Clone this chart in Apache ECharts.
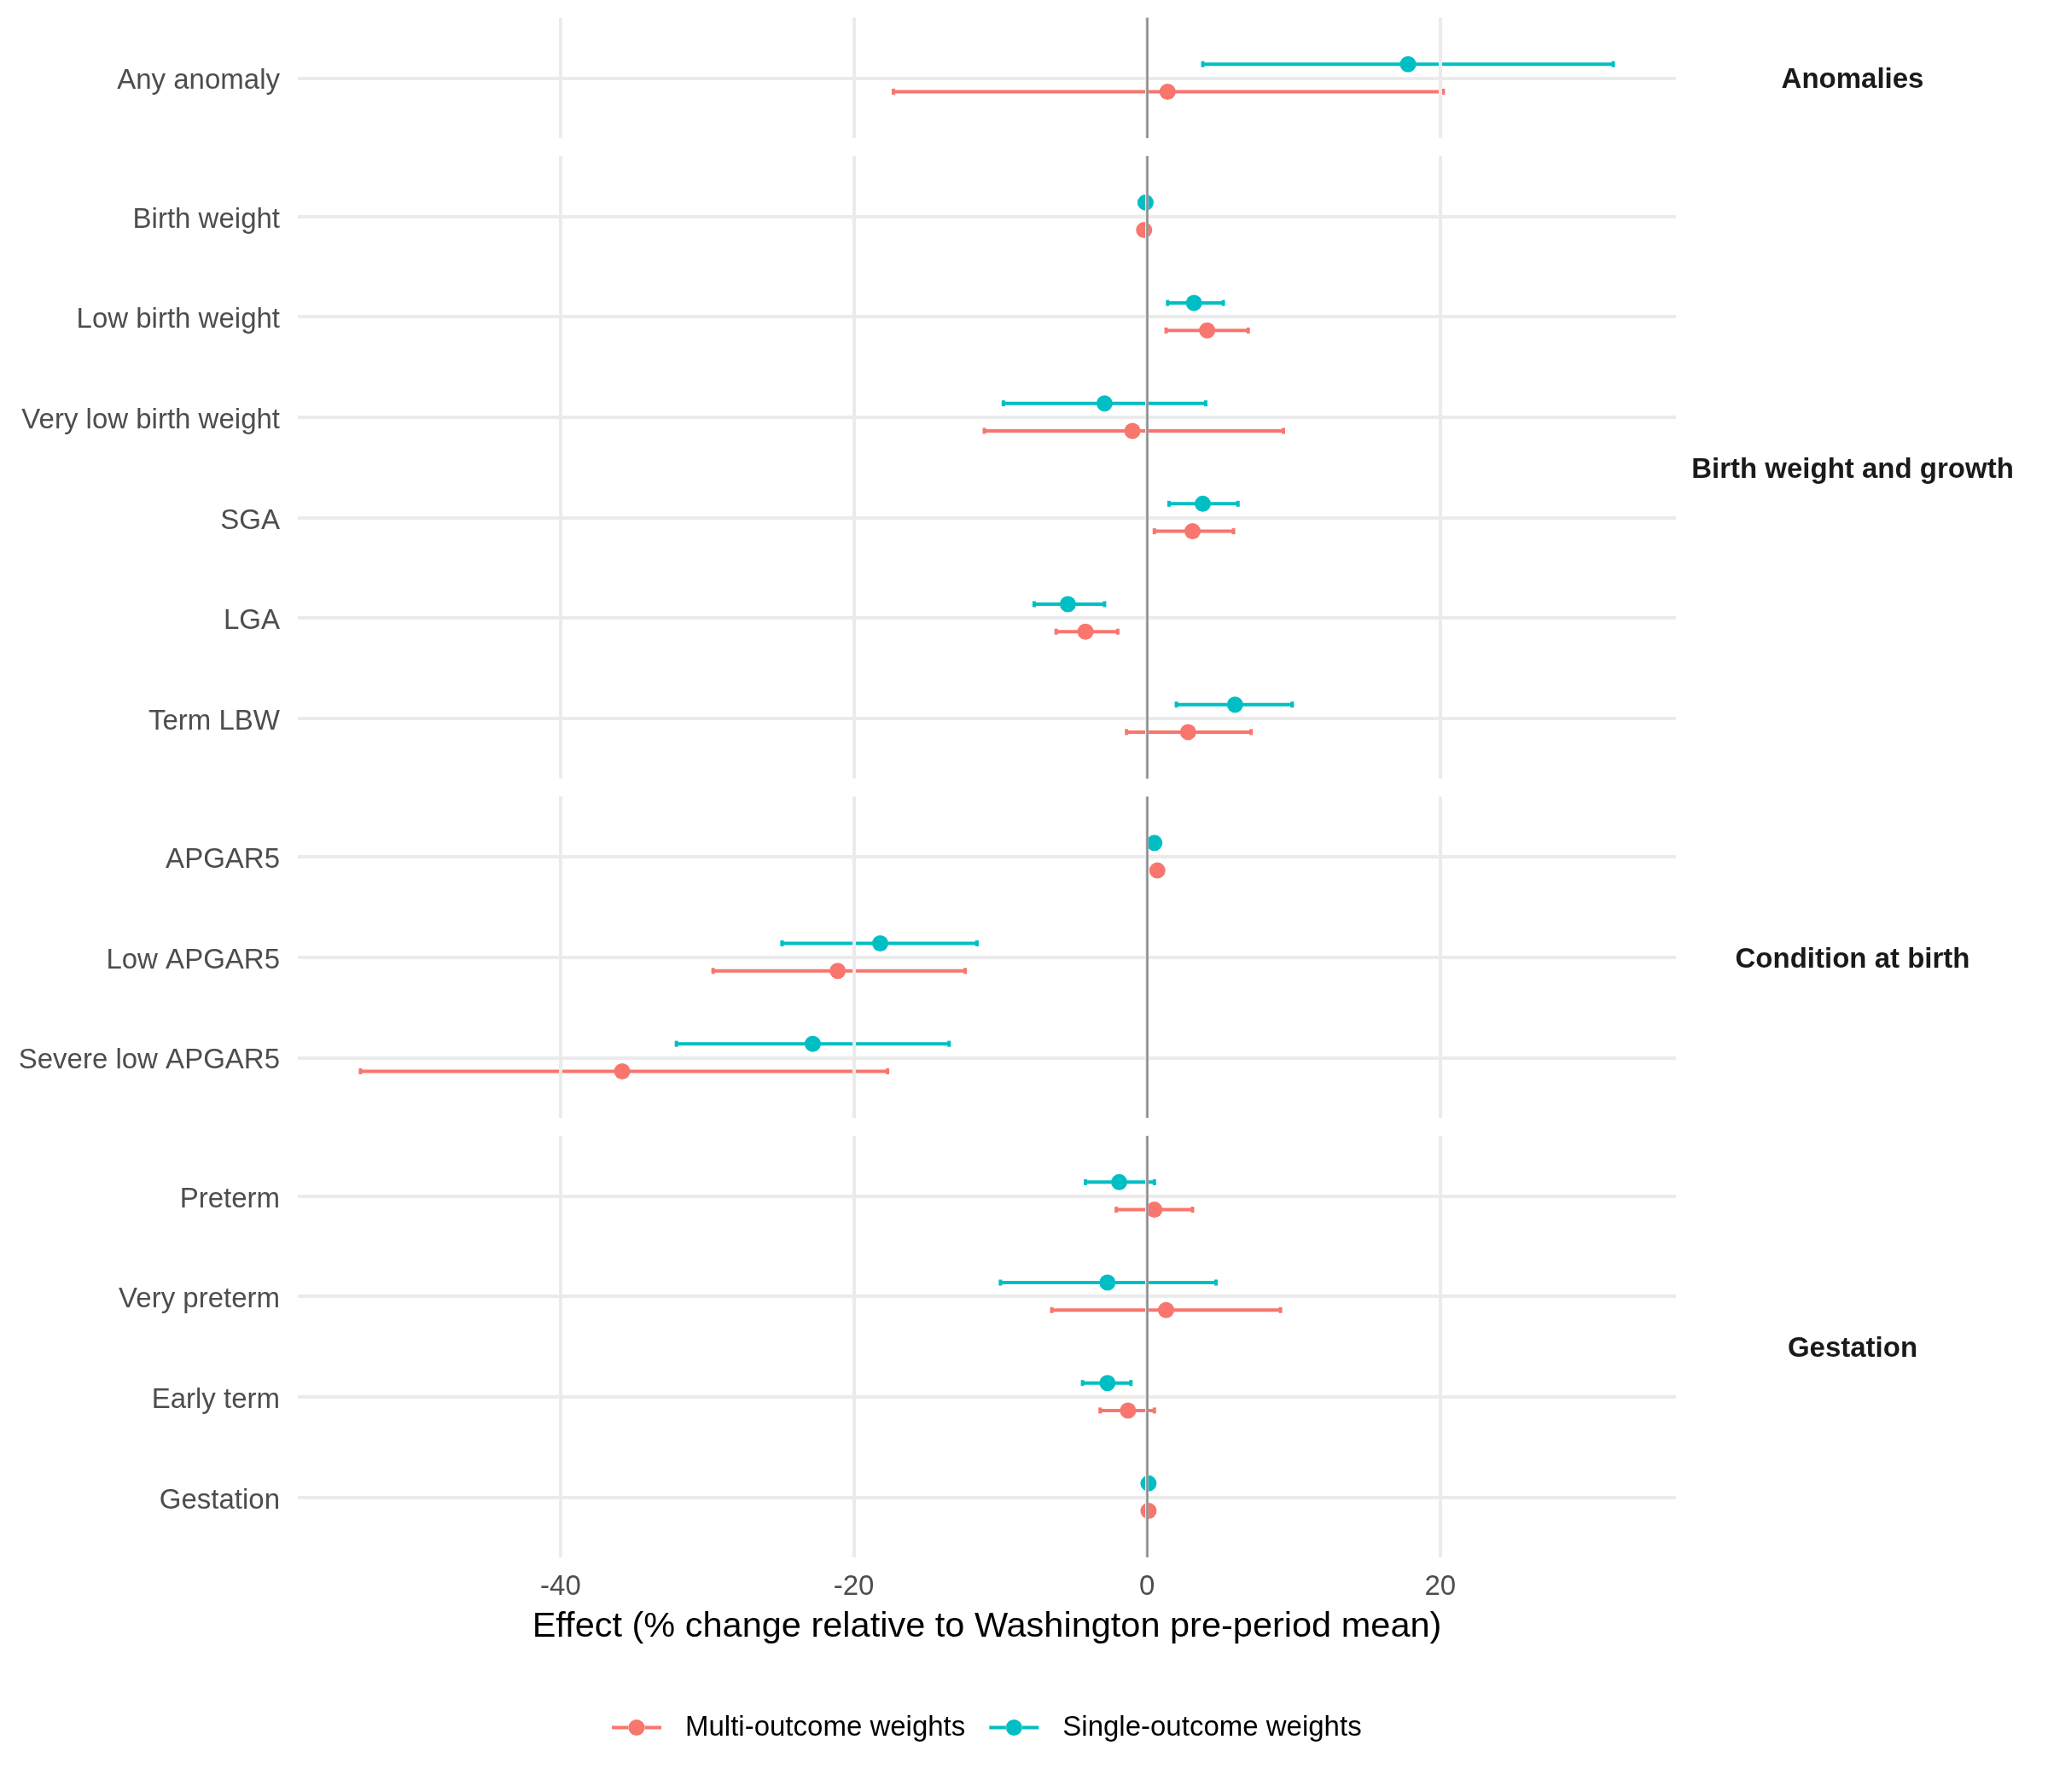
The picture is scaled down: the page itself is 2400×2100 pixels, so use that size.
<!DOCTYPE html>
<html>
<head>
<meta charset="utf-8">
<script src="https://cdn.jsdelivr.net/npm/echarts@6.0.0/dist/echarts.min.js"></script>
<style>
html, body { margin: 0; background: #fff; }
#chart { width: 2400px; height: 2100px; }
</style>
</head>
<body>
<div id="chart"></div>
<script>
// facets (top to bottom) and outcomes in display order
var panels = ['Anomalies', 'Birth weight and growth', 'Condition at birth', 'Gestation'];
var outcomes = ['Any anomaly',
    'Birth weight', 'Low birth weight', 'Very low birth weight', 'SGA', 'LGA', 'Term LBW',
    'APGAR5', 'Low APGAR5', 'Severe low APGAR5',
    'Preterm', 'Very preterm', 'Early term', 'Gestation'];
var panelOf = [0, 1, 1, 1, 1, 1, 1, 2, 2, 2, 3, 3, 3, 3];

// Multi-outcome weights
var multiEst = [1.4, -0.2, 4.1, -1.0, 3.1, -4.2, 2.8, 0.7, -21.1, -35.8, 0.5, 1.3, -1.3, 0.1];
var multiLo  = [-17.3, -0.6, 1.3, -11.1, 0.5, -6.2, -1.4, 0.4, -29.6, -53.65, -2.1, -6.5, -3.2, -0.05];
var multiHi  = [20.2, 0.15, 6.9, 9.3, 5.9, -2.0, 7.1, 1.0, -12.4, -17.7, 3.1, 9.1, 0.5, 0.23];

// Single-outcome weights
var singleEst = [17.8, -0.1, 3.2, -2.9, 3.8, -5.4, 6.0, 0.5, -18.2, -22.8, -1.9, -2.7, -2.7, 0.1];
var singleLo  = [3.8, -0.5, 1.4, -9.8, 1.5, -7.7, 2.0, 0.25, -24.9, -32.1, -4.2, -10.0, -4.4, -0.05];
var singleHi  = [31.8, 0.25, 5.2, 4.0, 6.2, -2.9, 9.9, 0.85, -11.6, -13.5, 0.5, 4.7, -1.1, 0.23];

var xTicks = [-40, -20, 0, 20];
var seriesNames = ['Multi-outcome weights', 'Single-outcome weights'];
var colors = ['#F8766D', '#00BFC4'];

var FONT = 'Liberation Sans';
var unit = 117.66, gap = 21, top0 = 20.7;
var gridLeft = 349, gridWidth = 1615;
var dodge = 0.137;

// x limits like ggplot: data range + 5%
var allLo = Math.min.apply(null, multiLo.concat(singleLo));
var allHi = Math.max.apply(null, multiHi.concat(singleHi));
var pad = (allHi - allLo) * 0.05;
var xMin = allLo - pad, xMax = allHi + pad;

var chart = echarts.init(document.getElementById('chart'));

function renderBar(params, api) {
    var y = api.value(2);
    var a = api.coord([api.value(0), y]);
    var b = api.coord([api.value(1), y]);
    var st = { stroke: api.visual('color'), lineWidth: 4 };
    return {
        type: 'group',
        children: [
            { type: 'line', shape: { x1: a[0], y1: a[1], x2: b[0], y2: b[1] }, style: st },
            { type: 'line', shape: { x1: a[0], y1: a[1] - 3.5, x2: a[0], y2: a[1] + 3.5 }, style: st },
            { type: 'line', shape: { x1: b[0], y1: b[1] - 3.5, x2: b[0], y2: b[1] + 3.5 }, style: st }
        ]
    };
}

var grids = [], xAxes = [], yAxes = [], series = [], graphics = [];
var panelTop = top0;
panels.forEach(function (pName, p) {
    var idx = [];
    panelOf.forEach(function (g, i) { if (g === p) idx.push(i); });
    var n = idx.length;
    var h = (n + 0.2) * unit;
    var names = idx.map(function (i) { return outcomes[i]; });
    var rows = idx.map(function (i, k) { return k + 1; });
    var last = p === panels.length - 1;

    grids.push({ left: gridLeft, width: gridWidth, top: panelTop, height: h });
    xAxes.push({
        gridIndex: p, type: 'value', min: xMin, max: xMax,
        axisLine: { show: false }, axisTick: { show: false }, splitLine: { show: false },
        axisLabel: {
            show: last, customValues: xTicks, margin: 18,
            color: '#4D4D4D', fontSize: 33, fontFamily: FONT
        },
        name: last ? 'Effect (% change relative to Washington pre-period mean)' : '',
        nameLocation: 'middle', nameGap: 60,
        nameTextStyle: { color: '#000', fontSize: 41.5, fontFamily: FONT }
    });
    yAxes.push({
        gridIndex: p, type: 'value', inverse: true, min: 0.4, max: n + 0.6,
        axisLine: { show: false }, axisTick: { show: false }, splitLine: { show: false },
        axisLabel: {
            customValues: rows, margin: 21,
            color: '#4D4D4D', fontSize: 33, fontFamily: FONT,
            formatter: function (v) { return '{a|' + names[Math.round(v) - 1] + '}'; },
            rich: {
                a: { color: '#4D4D4D', fontSize: 33, fontFamily: FONT, padding: [8, 0, 0, 0] }
            }
        }
    });

    // panel grid lines
    series.push({
        type: 'scatter', xAxisIndex: p, yAxisIndex: p, data: [], silent: true, z: 1,
        markLine: {
            silent: true, symbol: ['none', 'none'], label: { show: false }, animation: false,
            lineStyle: { color: '#EBEBEB', width: 4, type: 'solid' },
            data: xTicks.map(function (v) { return { xAxis: v }; })
                .concat(rows.map(function (r) { return { yAxis: r }; }))
        }
    });
    // zero reference line
    series.push({
        type: 'scatter', xAxisIndex: p, yAxisIndex: p, data: [], silent: true, z: 2,
        markLine: {
            silent: true, symbol: ['none', 'none'], label: { show: false }, animation: false,
            lineStyle: { color: '#8C8C8C', width: 2.5, type: 'solid' },
            data: [{ xAxis: 0 }]
        }
    });

    var groups = [
        { est: multiEst, lo: multiLo, hi: multiHi, off: dodge },
        { est: singleEst, lo: singleLo, hi: singleHi, off: -dodge }
    ];
    groups.forEach(function (g, s) {
        series.push({
            name: seriesNames[s], type: 'custom', xAxisIndex: p, yAxisIndex: p, z: 3,
            renderItem: renderBar, itemStyle: { color: colors[s] },
            encode: { x: [0, 1], y: 2 },
            data: idx.map(function (i, k) { return [g.lo[i], g.hi[i], k + 1 + g.off]; })
        });
        series.push({
            name: seriesNames[s], type: 'scatter', xAxisIndex: p, yAxisIndex: p, z: 4,
            symbol: 'circle', symbolSize: 19, itemStyle: { color: colors[s], opacity: 1 },
            data: idx.map(function (i, k) { return [g.est[i], k + 1 + g.off]; })
        });
    });

    graphics.push({
        type: 'text', x: 2171, y: panelTop + h / 2 + 3,
        style: {
            text: pName, textAlign: 'center', textVerticalAlign: 'middle',
            font: 'bold 33px "' + FONT + '"', fill: '#1A1A1A'
        }
    });

    panelTop += h + gap;
});

var keyIcon = 'path://M0,8L20,8L20,12L0,12Z M38,8L58,8L58,12L38,12Z ' +
    'M19.5,10A9.5,9.5 0 1 0 38.5,10A9.5,9.5 0 1 0 19.5,10Z';

var option = {
    animation: false,
    backgroundColor: '#fff',
    textStyle: { fontFamily: FONT },
    color: colors,
    grid: grids,
    xAxis: xAxes,
    yAxis: yAxes,
    legend: {
        left: 712, top: 2003, itemWidth: 58, itemHeight: 20, itemGap: 28,
        selectedMode: false,
        data: seriesNames.map(function (nm) { return { name: nm, icon: keyIcon }; }),
        textStyle: { color: '#000', fontSize: 33, fontFamily: FONT, padding: [0, 0, 0, 23] }
    },
    graphic: graphics,
    series: series
};

chart.setOption(option);
</script>
</body>
</html>
